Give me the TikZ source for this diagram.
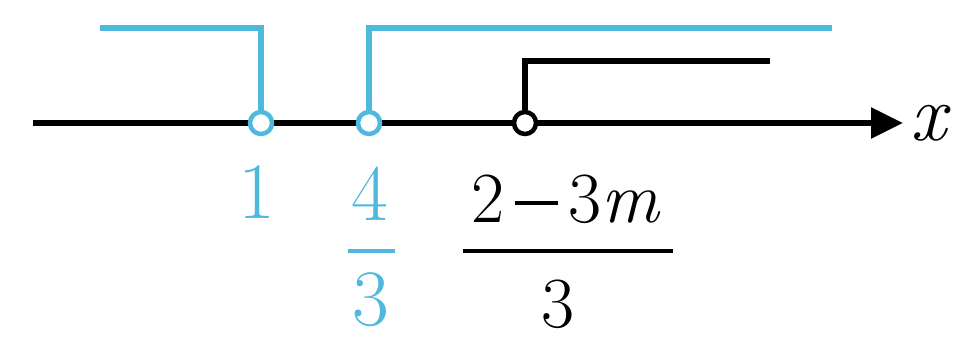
\documentclass[tikz,border=0pt]{standalone}
\usetikzlibrary{arrows.meta}
\definecolor{sky}{RGB}{78,184,222}
\newcommand{\mns}{\hspace{0.14em}\rule[0.24em]{0.6em}{0.05em}\hspace{0.14em}}
\tikzset{
  ax/.style={line width=5.5pt,black},
  bl/.style={line width=5.5pt,sky},
  bk/.style={line width=5.5pt,black},
  hole/.style={circle,line width=4.5pt,fill=white,inner sep=0pt,minimum size=22pt},
  bluetxt/.style={text=sky,font=\fontsize{80}{82}\selectfont,anchor=base,inner sep=0pt,text depth=0pt},
  blacktxt/.style={text=black,font=\fontsize{72}{74}\selectfont,anchor=base,inner sep=0pt,text depth=0pt},
}
\begin{document}
\begin{tikzpicture}[x=1pt,y=-1pt]
\useasboundingbox (0,0) rectangle (974,337);
% axis
\coordinate (a0) at (33,123);
\coordinate (a1) at (903,123);
\draw[ax,-{Triangle[length=32pt,width=30pt]}] (a0) -- (a1);
\node[anchor=base,inner sep=0pt,text depth=0pt,font=\fontsize{80}{82}\selectfont\itshape] (xl) at (928,140) {x};
% holes
\node[hole,draw=sky] (o1) at (261,123) {};
\node[hole,draw=sky] (o2) at (369,123) {};
\node[hole,draw=black] (o3) at (525,123) {};
% blue rays
\coordinate (b1s) at (100,28);
\coordinate (b1c) at (261,28);
\draw[bl] (b1s) -- (b1c) -- (o1);
\coordinate (b2e) at (832,28);
\coordinate (b2c) at (369,28);
\draw[bl] (b2e) -- (b2c) -- (o2);
% black ray
\coordinate (k1e) at (770,61);
\coordinate (k1c) at (525,61);
\draw[bk] (k1e) -- (k1c) -- (o3);
% labels
\node[bluetxt] (l1) at (257,218) {1};
\node[bluetxt] (l4) at (370,220) {4};
\node[bluetxt] (l3) at (371,325) {3};
\coordinate (f1a) at (348,251);
\coordinate (f1b) at (395,251);
\draw[line width=4pt,sky] (f1a) -- (f1b);
\node[blacktxt] (num) at (566,222) {2\mns3\textit{m}};
\node[blacktxt] (den) at (558,327) {3};
\coordinate (f2a) at (463,251);
\coordinate (f2b) at (673,251);
\draw[line width=4pt,black] (f2a) -- (f2b);
\end{tikzpicture}
\end{document}
